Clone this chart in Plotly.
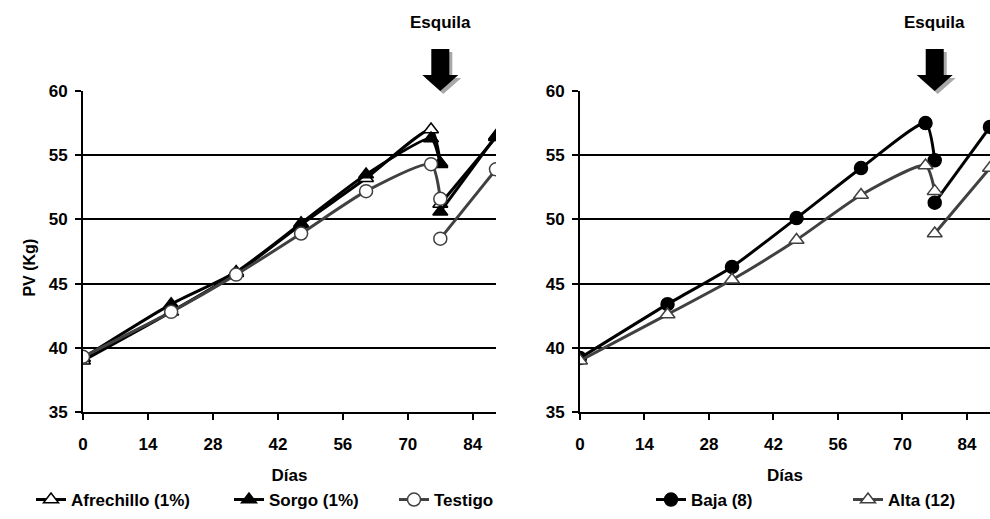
import plotly.graph_objects as go

# ---- data ----
dias = [0, 19, 33, 47, 61, 75, 77, None, 77, 89]
afrechillo = [39.0, 42.8, 45.8, 49.6, 53.2, 57.0, 54.4, None, 51.2, 56.4]
sorgo = [39.2, 43.4, 45.9, 49.7, 53.5, 56.3, 54.3, None, 50.6, 56.5]
testigo = [39.3, 42.8, 45.7, 48.9, 52.2, 54.3, 51.6, None, 48.5, 53.9]
baja = [39.2, 43.4, 46.3, 50.1, 54.0, 57.5, 54.6, None, 51.3, 57.2]
alta = [39.0, 42.6, 45.3, 48.4, 51.9, 54.2, 52.2, None, 48.9, 54.0]
esquila_dia = 77
x_ticks = [0, 14, 28, 42, 56, 70, 84]
y_ticks = [35, 40, 45, 50, 55, 60]

FONT = "Liberation Sans"
BLACK = "#000000"
GREY = "#404040"
W, H = 990, 519

fig = go.Figure()


def add(name, y, xa, ya, color, symbol, fill, legend):
    fig.add_trace(go.Scatter(
        x=dias, y=y, name=name, mode="lines+markers",
        xaxis=xa, yaxis=ya, legend=legend,
        connectgaps=False,
        line=dict(color=color, width=3, shape="spline", smoothing=0.6),
        marker=dict(symbol=symbol, size=13, color=fill,
                    line=dict(color=color, width=1.5)),
    ))


add("Afrechillo (1%)", afrechillo, "x", "y", BLACK, "triangle-up", "white", "legend")
add("Sorgo (1%)", sorgo, "x", "y", BLACK, "triangle-up", BLACK, "legend2")
add("Testigo", testigo, "x", "y", GREY, "circle", "white", "legend3")
add("Baja (8)", baja, "x2", "y2", BLACK, "circle", BLACK, "legend4")
add("Alta (12)", alta, "x2", "y2", GREY, "triangle-up", "white", "legend5")

axis_common = dict(
    range=[0, 89], tickvals=x_ticks, ticks="outside", ticklen=6, tickwidth=2,
    tickcolor=BLACK, showline=True, linecolor=BLACK, linewidth=2,
    showgrid=False, zeroline=False, ticklabelstandoff=10,
    tickfont=dict(family=FONT, size=17, color=BLACK, weight="bold"),
    title=dict(text="Días", standoff=16,
               font=dict(family=FONT, size=17, color=BLACK, weight="bold")),
)
yaxis_common = dict(
    range=[35, 60], tickvals=y_ticks, ticks="outside", ticklen=6, tickwidth=2,
    tickcolor=BLACK, showline=True, linecolor=BLACK, linewidth=2,
    showgrid=True, gridcolor=BLACK, gridwidth=1.5, zeroline=False,
    ticklabelstandoff=4,
    tickfont=dict(family=FONT, size=17, color=BLACK, weight="bold"),
)


def leg(px):
    return dict(orientation="h", x=px / W, y=-0.218, xanchor="left", yanchor="top",
                font=dict(family=FONT, size=17, color=BLACK, weight="bold"),
                bgcolor="rgba(0,0,0,0)")


fig.update_layout(
    width=W, height=H,
    margin=dict(l=0, r=0, t=91, b=107, autoexpand=False),
    paper_bgcolor="white", plot_bgcolor="white",
    xaxis=dict(domain=[83 / W, 496 / W], anchor="y", **axis_common),
    yaxis=dict(domain=[0, 1], anchor="x", **yaxis_common),
    xaxis2=dict(domain=[580 / W, 1.0], anchor="y2", **axis_common),
    yaxis2=dict(domain=[0, 1], anchor="x2", **yaxis_common),
    legend=leg(31), legend2=leg(229), legend3=leg(394),
    legend4=leg(651), legend5=leg(848),
    showlegend=True,
)

# Y axis title
fig.add_annotation(text="PV (Kg)", textangle=-90, xref="paper", yref="paper",
                   x=30 / W, y=0.45, xanchor="center", yanchor="middle",
                   showarrow=False,
                   font=dict(family=FONT, size=16, color=BLACK, weight="bold"))

arrow = "M -9,42 L 9,42 L 9,16 L 18,16 L 0,0 L -18,16 L -9,16 Z"
shadow = "M -6,39 L 12,39 L 12,13 L 21,13 L 3,-3 L -15,13 L -6,13 Z"
for xr, yr in [("x", "y domain"), ("x2", "y2 domain")]:
    fig.add_shape(type="path", path=shadow, xref=xr, yref=yr, xsizemode="pixel",
                  ysizemode="pixel", xanchor=esquila_dia, yanchor=1,
                  fillcolor="#a8a8a8", line=dict(width=0), layer="above")
    fig.add_shape(type="path", path=arrow, xref=xr, yref=yr, xsizemode="pixel",
                  ysizemode="pixel", xanchor=esquila_dia, yanchor=1,
                  fillcolor=BLACK, line=dict(width=0), layer="above")
    fig.add_annotation(text="Esquila", xref=xr, yref=yr, x=esquila_dia, y=1,
                       yshift=69, showarrow=False, yanchor="middle",
                       font=dict(family=FONT, size=17, color=BLACK, weight="bold"))

fig.write_html(
    "out.html",
    config={"displayModeBar": False},
    post_script="document.body.style.margin='0';document.body.style.overflow='hidden';",
)
